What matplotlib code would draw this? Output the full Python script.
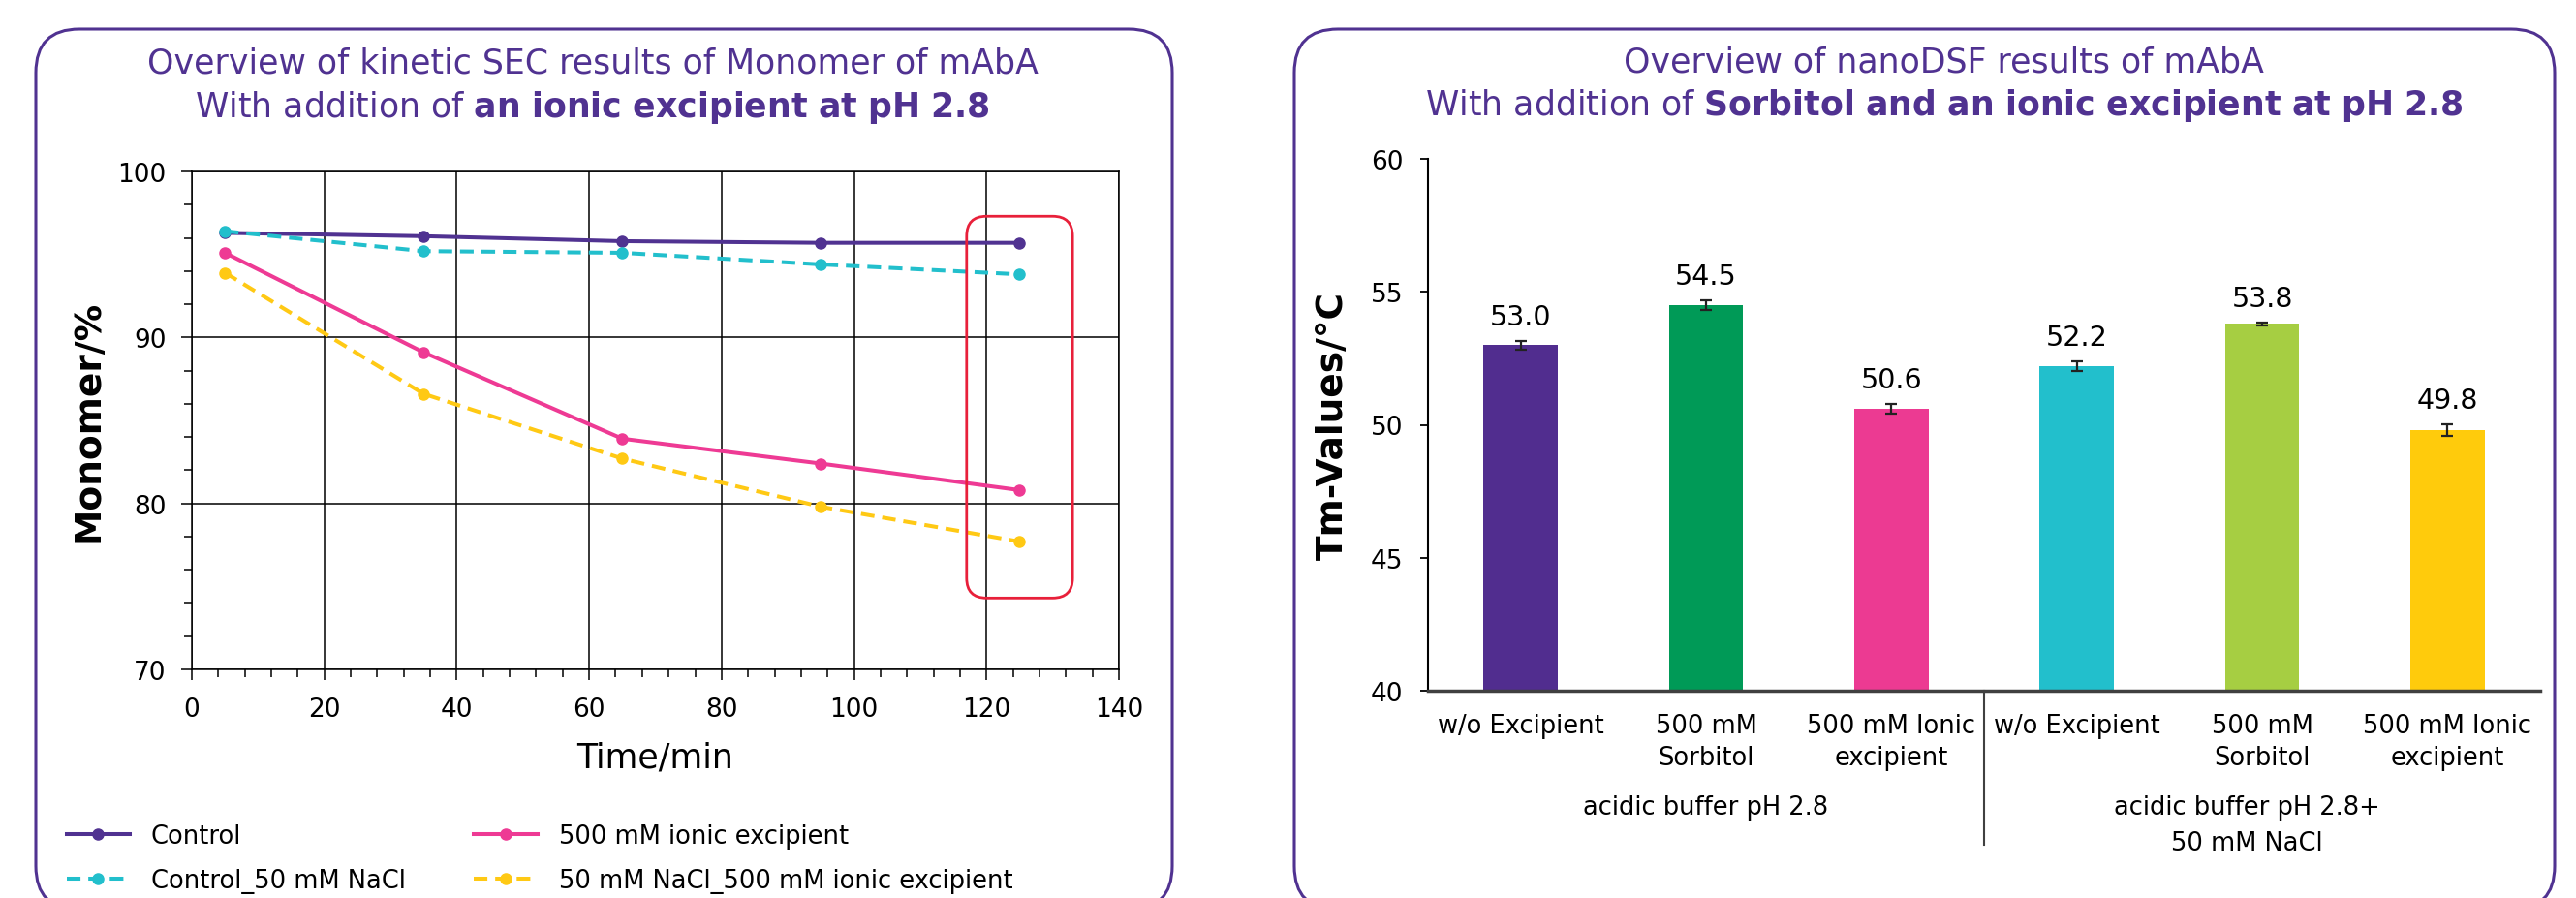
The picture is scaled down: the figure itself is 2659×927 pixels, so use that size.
import numpy as np
import matplotlib.pyplot as plt
from matplotlib.patches import FancyBboxPatch
from matplotlib.transforms import IdentityTransform
from matplotlib.lines import Line2D

plt.rcParams['font.family'] = 'DejaVu Sans'
plt.rcParams['mathtext.fontset'] = 'dejavusans'

# kinetic SEC: monomer content over time
time_min = [5, 35, 65, 95, 125]
control = [96.3, 96.1, 95.8, 95.7, 95.7]
control_nacl = [96.4, 95.2, 95.1, 94.4, 93.8]
ionic = [95.1, 89.1, 83.9, 82.4, 80.8]
nacl_ionic = [93.9, 86.6, 82.7, 79.8, 77.7]
series_names = ['Control', 'Control_50 mM NaCl',
                '500 mM ionic excipient', '50 mM NaCl_500 mM ionic excipient']

# nanoDSF: Tm values
categories = ['w/o Excipient', '500 mM\nSorbitol', '500 mM Ionic\nexcipient'] * 2
tm_values = [53.0, 54.5, 50.6, 52.2, 53.8, 49.8]
tm_err = [0.16, 0.17, 0.17, 0.17, 0.05, 0.22]
groups = ['acidic buffer pH 2.8', 'acidic buffer pH 2.8+\n50 mM NaCl']

purple = '#503291'
line_colors = ['#503291', '#22bfcc', '#ee3a94', '#ffc914']
line_styles = ['-', (0, (3.5, 2.0)), '-', (0, (3.5, 2.0))]
bar_colors = ['#512d8f', '#009a57', '#ec3a92', '#22bfcc', '#a6ce42', '#ffcb0c']

W, H = 2659, 928
fig = plt.figure(figsize=(W / 100, H / 100), dpi=100)

# rounded frames around both panels (pixel coords)
for x0, x1 in [(37, 1210), (1336, 2637)]:
    box = FancyBboxPatch((x0, H - 940), x1 - x0, 940 - 31,
                         boxstyle='round,pad=0,rounding_size=45',
                         transform=IdentityTransform(), fill=False,
                         edgecolor=purple, linewidth=2.2)
    fig.add_artist(box)

# titles
fs_title = 25
fig.text(0.23, 0.929, 'Overview of kinetic SEC results of Monomer of mAbA',
         ha='center', va='center', color=purple, fontsize=fs_title)
fig.text(0.23, 0.880, r'With addition of $\mathbf{an\ ionic\ excipient\ at\ pH\ 2.8}$',
         ha='center', va='center', color=purple, fontsize=fs_title)
fig.text(0.7545, 0.931, 'Overview of nanoDSF results of mAbA',
         ha='center', va='center', color=purple, fontsize=fs_title)
fig.text(0.7545, 0.883,
         r'With addition of $\mathbf{Sorbitol\ and\ an\ ionic\ excipient\ at\ pH\ 2.8}$',
         ha='center', va='center', color=purple, fontsize=fs_title)

# ---- left: line chart
ax1 = fig.add_axes([198 / W, 1 - 692 / H, (1155 - 198) / W, (692 - 178) / H])
all_series = [control, control_nacl, ionic, nacl_ionic]
for vals, name, c, ls in zip(all_series, series_names, line_colors, line_styles):
    ax1.plot(time_min, vals, color=c, linestyle=ls, linewidth=2.9,
             marker='o', markersize=8, label=name, zorder=3)

ax1.set_xlim(0, 140)
ax1.set_ylim(70, 100)
ax1.set_xticks(np.arange(0, 141, 20))
ax1.set_yticks(np.arange(70, 101, 10))
ax1.set_xticks(np.arange(0, 141, 4), minor=True)
ax1.set_yticks(np.arange(70, 101, 2), minor=True)
ax1.grid(which='major', color='black', linewidth=1.1)
ax1.tick_params(which='major', direction='out', length=8, width=1.1, labelsize=19)
ax1.tick_params(which='minor', direction='out', length=6, width=1.1)
ax1.tick_params(axis='x', which='major', pad=12)
ax1.tick_params(axis='y', which='major', pad=11)
for s in ax1.spines.values():
    s.set_linewidth(1.1)
ax1.set_xlabel('Time/min', fontsize=25, labelpad=14)
ax1.set_ylabel('Monomer/%', fontsize=27, fontweight='bold')
ax1.yaxis.set_label_coords(-0.092, 0.5)

# highlight last time point
hl = FancyBboxPatch((117, 74.3), 16, 23, boxstyle='round,pad=0,rounding_size=3',
                    mutation_aspect=0.4, fill=False, edgecolor='#e8203a',
                    linewidth=2, zorder=4)
ax1.add_patch(hl)

ax1.legend(loc='upper left', bbox_to_anchor=(56 / W, 1 - 838 / H),
           bbox_transform=fig.transFigure, ncol=2, frameon=False, fontsize=18.5,
           borderpad=0, handlelength=2.54, handletextpad=0.85,
           columnspacing=2.75, labelspacing=0.8)

# ---- right: bar chart
ax2 = fig.add_axes([1474 / W, 1 - 714 / H, (2622 - 1474) / W, (714 - 165) / H])
xpos = np.arange(len(tm_values))
ax2.bar(xpos, tm_values, width=0.4, color=bar_colors, yerr=tm_err, capsize=4,
        error_kw=dict(ecolor='#222222', elinewidth=1.6, capthick=1.6), zorder=2)
for x, v, e in zip(xpos, tm_values, tm_err):
    ax2.text(x, v + e + 0.4, f'{v:.1f}', ha='center', va='bottom', fontsize=20.5)

ax2.set_xlim(-0.5, 5.5)
ax2.set_ylim(40, 60)
ax2.set_yticks(np.arange(40, 61, 5))
ax2.set_xticks([])
ax2.spines['top'].set_visible(False)
ax2.spines['right'].set_visible(False)
ax2.spines['bottom'].set_color('#404040')
ax2.spines['bottom'].set_linewidth(2.5)
ax2.spines['bottom'].set_zorder(3)
ax2.spines['left'].set_linewidth(1.5)
ax2.tick_params(axis='y', direction='out', length=5.5, width=1.3, labelsize=19, pad=13)
ax2.set_ylabel('Tm-Values/°C', fontsize=27, fontweight='bold')
ax2.yaxis.set_label_coords(-0.070, 0.5)

tr = ax2.get_xaxis_transform()
for x, lab in zip(xpos, categories):
    ax2.text(x, -0.042, lab, transform=tr, ha='center', va='top',
             fontsize=18.5, linespacing=1.35)
for x, g in zip([1, 3.92], groups):
    ax2.text(x, -0.195, g, transform=tr, ha='center', va='top',
             fontsize=18.5, linespacing=1.55)
ax2.add_line(Line2D([2.5, 2.5], [0, -0.29], transform=tr, clip_on=False,
                    color='#404040', linewidth=1.5))

fig.savefig('out.png', dpi=100)
